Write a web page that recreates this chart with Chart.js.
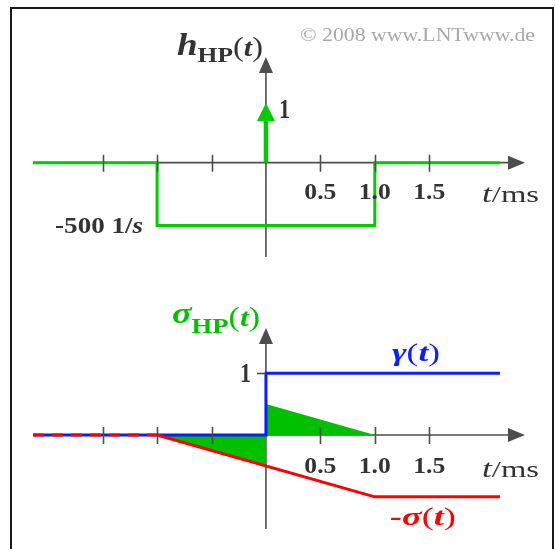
<!DOCTYPE html>
<html>
<head>
<meta charset="utf-8">
<script src="https://cdn.jsdelivr.net/npm/chart.js@4"></script>
<style>
  html, body { margin: 0; padding: 0; background: #fff; overflow: hidden; width: 556px; height: 549px; }
  #frame { position: absolute; left: 10px; top: 7px; width: 544px; height: 560px; border: 2px solid #1a1a1a; box-sizing: border-box; }
  canvas { position: absolute; left: 0; }
  #hChart { top: 0; }
  #sChart { top: 280px; }
</style>
</head>
<body>
<div id="frame"></div>
<canvas id="hChart" width="556" height="280"></canvas>
<canvas id="sChart" width="556" height="269"></canvas>
<script>
// ---- time axis (ms) ----
const tMin = -2.14, tMax = 2.38;
const tTicks = [-1.5, -1, -0.5, 0.5, 1, 1.5];
const tLabelValues = [0.5, 1, 1.5];
const tLabels = ['0.5', '1.0', '1.5'];

// ---- high-pass impulse response h_HP(t), in 1/s ----
const hTime  = [-2.14, -1, -1, 1, 1, 2.15];
const hValue = [0, 0, -500, -500, 0, 0];
const diracWeight = 1;
const hLevelLabel = '-500 1/';

// ---- step responses ----
const gammaTime  = [-2.14, 0, 0, 2.15];
const gammaValue = [0, 0, 1, 1];
const sigmaTime     = [-2.14, -1, 1, 2.15];
const sigmaNegValue = [0, 0, -1, -1];
const sigmaHPTime  = [-1, 0, 0, 1];
const sigmaHPValue = [0, -0.5, 0.5, 0];
const stepLevelLabel = '1';

const GREEN = 'rgb(0,204,0)';
const FILL_GREEN = 'rgb(0,192,0)';
const BLUE = 'rgb(10,30,255)';
const RED = 'rgb(255,0,0)';
const AXIS = '#4d4d4d';
const TEXT = '#333333';
const SERIF = '"Liberation Serif", "DejaVu Serif", serif';

const pts = (xs, ys) => xs.map((x, i) => ({ x, y: ys[i] }));

// draw a row of differently styled text runs, optionally squeezed/stretched to a width
function drawRuns(ctx, runs, x, y, opts = {}) {
  ctx.save();
  ctx.textBaseline = 'alphabetic';
  ctx.textAlign = 'left';
  let w = 0;
  runs.forEach(r => { ctx.font = r.font; r.w = ctx.measureText(r.t).width; w += r.w; });
  const sx = opts.width ? opts.width / w : 1;
  let x0 = x;
  if (opts.align === 'center') x0 = x - w * sx / 2;
  else if (opts.align === 'right') x0 = x - w * sx;
  ctx.translate(x0, y);
  ctx.scale(sx, 1);
  let cx = 0;
  runs.forEach(r => {
    ctx.font = r.font;
    ctx.fillStyle = r.color || opts.color || TEXT;
    ctx.fillText(r.t, cx, r.dy || 0);
    cx += r.w;
  });
  ctx.restore();
}

function arrowHead(ctx, x, y, dir, len, half, color) {
  ctx.save();
  ctx.fillStyle = color;
  ctx.beginPath();
  if (dir === 'right') { ctx.moveTo(x, y); ctx.lineTo(x - len, y - half); ctx.lineTo(x - len, y + half); }
  else { ctx.moveTo(x, y); ctx.lineTo(x - half, y + len); ctx.lineTo(x + half, y + len); }
  ctx.closePath();
  ctx.fill();
  ctx.restore();
}

// axes with arrows: drawn underneath the curves
const axesPlugin = {
  id: 'axesArrows',
  beforeDatasetsDraw(chart) {
    const { ctx, chartArea: a, scales } = chart;
    const x0 = scales.x.getPixelForValue(0);
    const y0 = scales.y.getPixelForValue(0);
    ctx.save();
    ctx.strokeStyle = AXIS;
    ctx.lineWidth = 1.6;
    ctx.beginPath();
    ctx.moveTo(a.left, y0); ctx.lineTo(a.right - 10, y0);
    ctx.moveTo(x0, a.bottom); ctx.lineTo(x0, a.top + 10);
    ctx.stroke();
    arrowHead(ctx, a.right, y0, 'right', 17, 7, AXIS);
    arrowHead(ctx, x0, a.top, 'up', 16, 7, AXIS);
    ctx.restore();
  },
  afterDatasetsDraw(chart) {
    const { ctx, scales } = chart;
    const y0 = scales.y.getPixelForValue(0);
    ctx.save();
    ctx.strokeStyle = AXIS;
    ctx.lineWidth = 1.6;
    ctx.beginPath();
    tTicks.forEach(t => {
      const px = Math.round(scales.x.getPixelForValue(t)) + 0.5;
      ctx.moveTo(px, y0 - 8); ctx.lineTo(px, y0 + 9);
    });
    ctx.stroke();
    ctx.restore();
    tLabelValues.forEach((t, i) => {
      drawRuns(ctx, [{ t: tLabels[i], font: 'bold 23px ' + SERIF }],
        scales.x.getPixelForValue(t), y0 + chart.options.plugins.axesArrows.tickDy,
        { align: 'center', width: 32 });
    });
    drawRuns(ctx, [
      { t: 't', font: 'italic 26px ' + SERIF },
      { t: '/ms', font: '24px ' + SERIF }
    ], chart.chartArea.right - 43, y0 + chart.options.plugins.axesArrows.unitDy, { width: 57 });
  }
};

const baseOptions = (padding, yMin, yMax, extraScales, plugin) => ({
  responsive: false,
  animation: false,
  events: [],
  layout: { padding },
  plugins: { legend: { display: false }, tooltip: { enabled: false }, axesArrows: plugin },
  elements: { point: { radius: 0 }, line: { tension: 0, borderJoinStyle: 'miter', borderCapStyle: 'butt' } },
  scales: Object.assign({
    x: { type: 'linear', min: tMin, max: tMax, display: false },
    y: { type: 'linear', min: yMin, max: yMax, display: false }
  }, extraScales)
});

// ---------------- upper panel: h_HP(t) ----------------
const hLabels = {
  id: 'hLabels',
  afterDatasetsDraw(chart) {
    const { ctx, scales, chartArea: a } = chart;
    const x0 = scales.x.getPixelForValue(0);
    const y0 = scales.y.getPixelForValue(0);
    // Dirac impulse with weight diracWeight
    const yTip = scales.yd.getPixelForValue(diracWeight);
    ctx.save();
    ctx.strokeStyle = GREEN;
    ctx.lineWidth = 4.5;
    ctx.beginPath();
    ctx.moveTo(x0, y0); ctx.lineTo(x0, yTip + 12);
    ctx.stroke();
    ctx.restore();
    arrowHead(ctx, x0, yTip, 'up', 18, 9, GREEN);
    drawRuns(ctx, [{ t: String(diracWeight), font: 'bold 27px ' + SERIF }], x0 + 13, yTip + 15, { width: 11 });

    drawRuns(ctx, [
      { t: hLevelLabel, font: 'bold 23px ' + SERIF },
      { t: 's', font: 'italic bold 23px ' + SERIF }
    ], scales.x.getPixelForValue(-1) - 14, scales.y.getPixelForValue(-500) + 7, { align: 'right', width: 88 });

    drawRuns(ctx, [
      { t: 'h', font: 'italic bold 32px ' + SERIF },
      { t: 'HP', font: 'bold 22px ' + SERIF, dy: 7 },
      { t: '(', font: '28px ' + SERIF, dy: 1 },
      { t: 't', font: 'italic bold 26px ' + SERIF, dy: 1 },
      { t: ')', font: '28px ' + SERIF, dy: 1 }
    ], x0 - 89, a.top - 2, { width: 86 });

    drawRuns(ctx, [{ t: '\u00A9 2008 www.LNTwww.de', font: '19px ' + SERIF, color: '#a8a8a8' }],
      300, 41, { width: 235 });
  }
};

new Chart(document.getElementById('hChart'), {
  type: 'line',
  data: {
    datasets: [{
      data: pts(hTime, hValue),
      borderColor: GREEN,
      borderWidth: 3,
      fill: false
    }]
  },
  options: baseOptions(
    { left: 33, right: 31, top: 57, bottom: 23 },
    -750, 840,
    { yd: { type: 'linear', min: -1.58, max: 1.77, display: false } },
    { tickDy: 36, unitDy: 39 }
  ),
  plugins: [axesPlugin, hLabels]
});

// ---------------- lower panel: step responses ----------------
const sLabels = {
  id: 'sLabels',
  afterDatasetsDraw(chart) {
    const { ctx, scales, chartArea: a } = chart;
    const x0 = scales.x.getPixelForValue(0);
    const y1 = scales.y.getPixelForValue(1);
    ctx.save();
    ctx.strokeStyle = AXIS;
    ctx.lineWidth = 1.6;
    ctx.beginPath();
    ctx.moveTo(x0 - 9, Math.round(y1) + 0.5); ctx.lineTo(x0, Math.round(y1) + 0.5);
    ctx.stroke();
    ctx.restore();
    drawRuns(ctx, [{ t: stepLevelLabel, font: 'bold 27px ' + SERIF }], x0 - 15, y1 + 9, { align: 'right', width: 11 });

    drawRuns(ctx, [
      { t: '\u03C3', font: 'italic bold 30px ' + SERIF },
      { t: 'HP', font: 'bold 22px ' + SERIF, dy: 10 },
      { t: '(', font: '28px ' + SERIF, dy: 3 },
      { t: 't', font: 'italic bold 26px ' + SERIF, dy: 3 },
      { t: ')', font: '28px ' + SERIF, dy: 3 }
    ], x0 - 94, a.top - 5, { width: 88, color: FILL_GREEN });

    drawRuns(ctx, [
      { t: '\u03B3', font: 'italic bold 26px ' + SERIF },
      { t: '(', font: '26px ' + SERIF },
      { t: 't', font: 'italic bold 26px ' + SERIF },
      { t: ')', font: '26px ' + SERIF }
    ], x0 + 126, y1 - 12, { width: 48, color: BLUE });

    drawRuns(ctx, [
      { t: '-\u03C3', font: 'italic bold 26px ' + SERIF },
      { t: '(', font: '26px ' + SERIF },
      { t: 't', font: 'italic bold 26px ' + SERIF },
      { t: ')', font: '26px ' + SERIF }
    ], x0 + 124, scales.y.getPixelForValue(-1) + 28, { width: 66, color: RED });
  }
};

new Chart(document.getElementById('sChart'), {
  type: 'line',
  data: {
    datasets: [
      {
        // -sigma(t): dashed where it coincides with gamma(t)
        data: pts(sigmaTime, sigmaNegValue),
        borderColor: RED,
        borderWidth: 3,
        fill: false,
        order: 0,
        segment: { borderDash: c => (c.p1.parsed.x <= -1 ? [11, 8] : undefined) }
      },
      {
        data: pts(gammaTime, gammaValue),
        borderColor: BLUE,
        borderWidth: 3,
        fill: false,
        order: 1
      },
      {
        data: pts(sigmaHPTime, sigmaHPValue),
        borderWidth: 0,
        borderColor: 'rgba(0,0,0,0)',
        backgroundColor: FILL_GREEN,
        fill: 'origin',
        order: 2
      }
    ]
  },
  options: baseOptions(
    { left: 33, right: 31, top: 48, bottom: 20 },
    -1.52, 1.73,
    {},
    { tickDy: 38, unitDy: 42 }
  ),
  plugins: [axesPlugin, sLabels]
});
</script>
</body>
</html>
